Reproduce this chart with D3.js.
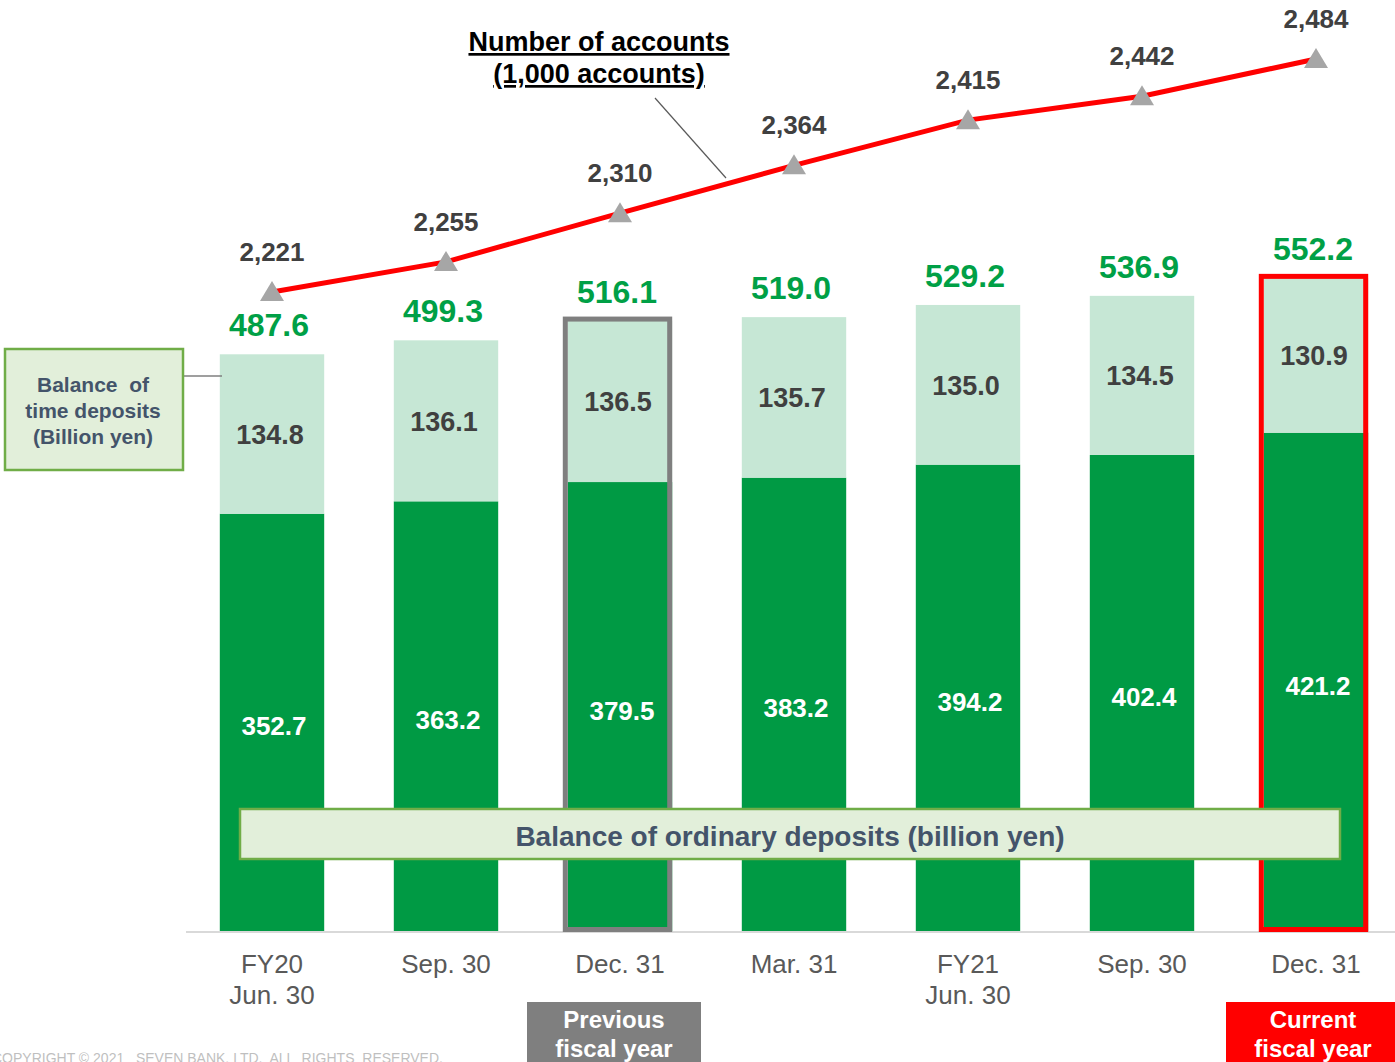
<!DOCTYPE html>
<html><head><meta charset="utf-8">
<script src="https://cdn.jsdelivr.net/npm/d3@7"></script>
<style>body{margin:0;background:#fff}svg{display:block;font-family:"Liberation Sans",Arial,sans-serif}</style>
</head><body><svg id="c" width="1395" height="1062"></svg>
<script>
const categories = ["FY20\nJun. 30","Sep. 30","Dec. 31","Mar. 31","FY21\nJun. 30","Sep. 30","Dec. 31"];
const ordinary = [352.7,363.2,379.5,383.2,394.2,402.4,421.2];
const timeDep = [134.8,136.1,136.5,135.7,135.0,134.5,130.9];
const totals = [487.6,499.3,516.1,519.0,529.2,536.9,552.2];
const accounts = [2221,2255,2310,2364,2415,2442,2484];

const svg = d3.select("#c");
const x = d3.scaleBand().domain(d3.range(categories.length)).range([185,1403]).paddingInner(0.4).paddingOuter(0.2);
const y = d3.scaleLinear().domain([0,600]).range([931,221.2]);
const yA = d3.scaleLinear().domain([2221,2484]).range([292,59]);
const cx = i => x(i)+x.bandwidth()/2;
const fmt = d3.format(",");
const bw = x.bandwidth();

// axis line
svg.append("line").attr("x1",186).attr("x2",1395).attr("y1",932).attr("y2",932).attr("stroke","#d9d9d9").attr("stroke-width",2);

// bars
const g = svg.append("g");
g.selectAll(".ord").data(ordinary).join("rect")
  .attr("x",(d,i)=>x(i)).attr("width",bw)
  .attr("y",d=>y(d)).attr("height",d=>y(0)-y(d)).attr("fill","#009a44");
g.selectAll(".tim").data(timeDep).join("rect")
  .attr("x",(d,i)=>x(i)).attr("width",bw)
  .attr("y",(d,i)=>y(ordinary[i]+d)).attr("height",(d,i)=>y(ordinary[i])-y(ordinary[i]+d)).attr("fill","#c6e7d5");

// highlight boxes
const hl = [{i:2,c:"#7f7f7f"},{i:6,c:"#ff0000"}];
hl.forEach(h=>{
  const top = y(ordinary[h.i]+timeDep[h.i]);
  svg.append("rect").attr("x",x(h.i)-2.5).attr("y",top-1.5).attr("width",bw)
    .attr("height",929.5-(top-1.5)).attr("fill","none").attr("stroke",h.c).attr("stroke-width",5);
});

// labels in bars
svg.selectAll(".ol").data(ordinary).join("text")
  .attr("x",(d,i)=>cx(i)+2).attr("y",d=>(y(d)+y(0))/2+13)
  .attr("text-anchor","middle").attr("fill","#fff").attr("font-weight","bold").attr("font-size",26).text(d=>d.toFixed(1));
svg.selectAll(".tl").data(timeDep).join("text")
  .attr("x",(d,i)=>cx(i)-2).attr("y",(d,i)=>(y(ordinary[i])+y(ordinary[i]+d))/2+10)
  .attr("text-anchor","middle").attr("fill","#404040").attr("font-weight","bold").attr("font-size",27).text(d=>d.toFixed(1));
svg.selectAll(".tot").data(totals).join("text")
  .attr("x",(d,i)=>cx(i)-3).attr("y",(d,i)=>y(ordinary[i]+timeDep[i])-18)
  .attr("text-anchor","middle").attr("fill","#00a046").attr("font-weight","bold").attr("font-size",32).text(d=>d.toFixed(1));

// category labels
categories.forEach((c,i)=>{
  const t = svg.append("text").attr("x",cx(i)).attr("y",973).attr("text-anchor","middle").attr("fill","#595959").attr("font-size",26);
  c.split("\n").forEach((s,k)=>t.append("tspan").attr("x",cx(i)).attr("dy",k?31:0).text(s));
});

// line
const line = d3.line().x((d,i)=>cx(i)).y(d=>yA(d));
svg.append("path").datum(accounts).attr("d",line).attr("fill","none").attr("stroke","#ff0000").attr("stroke-width",5);
svg.selectAll(".tri").data(accounts).join("path")
  .attr("d",(d,i)=>`M${cx(i)},${yA(d)-11}L${cx(i)+12},${yA(d)+9}L${cx(i)-12},${yA(d)+9}Z`).attr("fill","#a6a6a6");
svg.selectAll(".al").data(accounts).join("text")
  .attr("x",(d,i)=>cx(i)).attr("y",d=>yA(d)-31)
  .attr("text-anchor","middle").attr("fill","#404040").attr("font-weight","bold").attr("font-size",26).text(d=>fmt(d));

// annotation
svg.append("line").attr("x1",655).attr("y1",98).attr("x2",726).attr("y2",178).attr("stroke","#595959").attr("stroke-width",1.2);
[["Number of accounts",51],["(1,000 accounts)",83]].forEach(([s,yy])=>{
  svg.append("text").attr("x",599).attr("y",yy).attr("text-anchor","middle").attr("font-weight","bold").attr("font-size",27)
    .attr("fill","#000").attr("text-decoration","underline").text(s);
});

// time deposits legend
svg.append("line").attr("x1",183).attr("x2",222).attr("y1",376).attr("y2",376).attr("stroke","#7f7f7f").attr("stroke-width",1.5);
svg.append("rect").attr("x",5).attr("y",349).attr("width",178).attr("height",121).attr("fill","#e2efda").attr("stroke","#70ad47").attr("stroke-width",2.5);
["Balance  of","time deposits","(Billion yen)"].forEach((s,k)=>{
  svg.append("text").attr("x",93).attr("y",392+k*26).attr("text-anchor","middle").attr("fill","#44546a").attr("font-weight","bold").attr("font-size",21).attr("xml:space","preserve").text(s);
});

// ordinary legend
svg.append("rect").attr("x",240).attr("y",809).attr("width",1100).attr("height",50).attr("fill","#e2efda").attr("stroke","#70ad47").attr("stroke-width",2.5);
svg.append("text").attr("x",790).attr("y",846).attr("text-anchor","middle").attr("fill","#44546a").attr("font-weight","bold").attr("font-size",28).text("Balance of ordinary deposits (billion yen)");

// fiscal year tags
[{x:527,w:174,c:"#7f7f7f",t:["Previous","fiscal year"],cx:614},{x:1226,w:169,c:"#ff0000",t:["Current","fiscal year"],cx:1313}].forEach(b=>{
  svg.append("rect").attr("x",b.x).attr("y",1002).attr("width",b.w).attr("height",62).attr("fill",b.c);
  b.t.forEach((s,k)=>svg.append("text").attr("x",b.cx).attr("y",1028+k*29).attr("text-anchor","middle").attr("fill","#fff").attr("font-weight","bold").attr("font-size",24).text(s));
});

// copyright
svg.append("text").attr("x",-8).attr("y",1063).attr("fill","#bfbfbf").attr("font-size",14).attr("xml:space","preserve").text("COPYRIGHT © 2021   SEVEN BANK, LTD.  ALL  RIGHTS  RESERVED.");
</script></body></html>
